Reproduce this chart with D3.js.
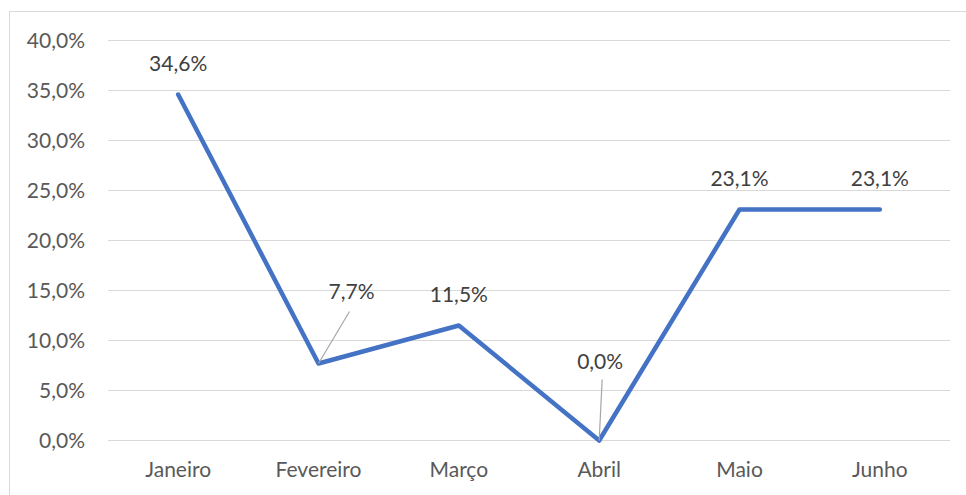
<!DOCTYPE html>
<html>
<head>
<meta charset="utf-8">
<script src="https://cdn.jsdelivr.net/npm/d3@7"></script>
<style>
  html, body { margin: 0; padding: 0; background: #fff; }
  svg { display: block; }
</style>
</head>
<body>
<div id="chart"></div>
<script>
/* Variação mensal (%) — linha única com rótulos de dados */
var months = ['Janeiro', 'Fevereiro', 'Março', 'Abril', 'Maio', 'Junho'];
var values = [34.6, 7.7, 11.5, 0.0, 23.1, 23.1];
var yTicks = [0, 5, 10, 15, 20, 25, 30, 35, 40];

(function () {
  'use strict';
  var W = 966, H = 495;
  var margin = { top: 40.5, right: 16, bottom: 54.5, left: 108 };
  var innerW = W - margin.left - margin.right;
  var innerH = H - margin.top - margin.bottom;
  var textColor = '#595959';
  var font = 'Lato, "Open Sans", sans-serif';
  var fontSize = '21px';

  var svg = d3.select('#chart').append('svg').attr('width', W).attr('height', H);

  /* chart frame */
  svg.append('rect')
    .attr('x', 9.5).attr('y', 11.5).attr('width', W).attr('height', H)
    .attr('fill', 'none').attr('stroke', '#d9d9d9').attr('stroke-width', 1);

  var g = svg.append('g').attr('transform', 'translate(' + margin.left + ',' + margin.top + ')');

  var x = d3.scaleBand().domain(months).range([0, innerW]);
  var y = d3.scaleLinear().domain([0, 40]).range([innerH, 0]);
  var fmt = function (v) { return v.toFixed(1).replace('.', ',') + '%'; };

  /* gridlines */
  g.append('g').selectAll('line').data(yTicks).enter().append('line')
    .attr('x1', 0).attr('x2', innerW)
    .attr('y1', function (d) { return y(d); }).attr('y2', function (d) { return y(d); })
    .attr('stroke', '#d9d9d9').attr('stroke-width', 1);

  /* y axis labels */
  var yAxis = g.append('g').call(d3.axisLeft(y).tickValues(yTicks).tickFormat(fmt).tickSize(0).tickPadding(23));
  yAxis.select('.domain').remove();
  yAxis.selectAll('text').style('font-family', font).style('font-size', fontSize).attr('fill', textColor);

  /* x axis labels */
  var xAxis = g.append('g').attr('transform', 'translate(0,' + innerH + ')')
    .call(d3.axisBottom(x).tickSize(0).tickPadding(22));
  xAxis.select('.domain').remove();
  xAxis.selectAll('text').style('font-family', font).style('font-size', fontSize).attr('fill', textColor);

  var cx = function (i) { return x(months[i]) + x.bandwidth() / 2; };

  /* line */
  var line = d3.line()
    .x(function (d, i) { return cx(i); })
    .y(function (d) { return y(d); });
  g.append('path').datum(values)
    .attr('d', line)
    .attr('fill', 'none').attr('stroke', '#4472c4')
    .attr('stroke-width', 4.5).attr('stroke-linecap', 'round').attr('stroke-linejoin', 'round');

  /* labels moved by hand in the original, with leader lines */
  var moved = {
    'Fevereiro': { dx: 33, dy: -65, lx: 31, ly: -52 },
    'Abril': { dx: 1, dy: -72, lx: 3, ly: -61 }
  };

  var labels = g.append('g');
  values.forEach(function (v, i) {
    var px = cx(i), py = y(v);
    var m = moved[months[i]];
    var tx = px, ty = py - 24;
    if (m) {
      labels.append('line')
        .attr('x1', px).attr('y1', py)
        .attr('x2', px + m.lx).attr('y2', py + m.ly)
        .attr('stroke', '#a6a6a6').attr('stroke-width', 1.2);
      tx = px + m.dx; ty = py + m.dy;
    }
    labels.append('text')
      .attr('x', tx).attr('y', ty)
      .attr('text-anchor', 'middle')
      .style('font-family', font).style('font-size', fontSize)
      .attr('fill', '#404040')
      .text(fmt(v));
  });
})();
</script>
</body>
</html>
